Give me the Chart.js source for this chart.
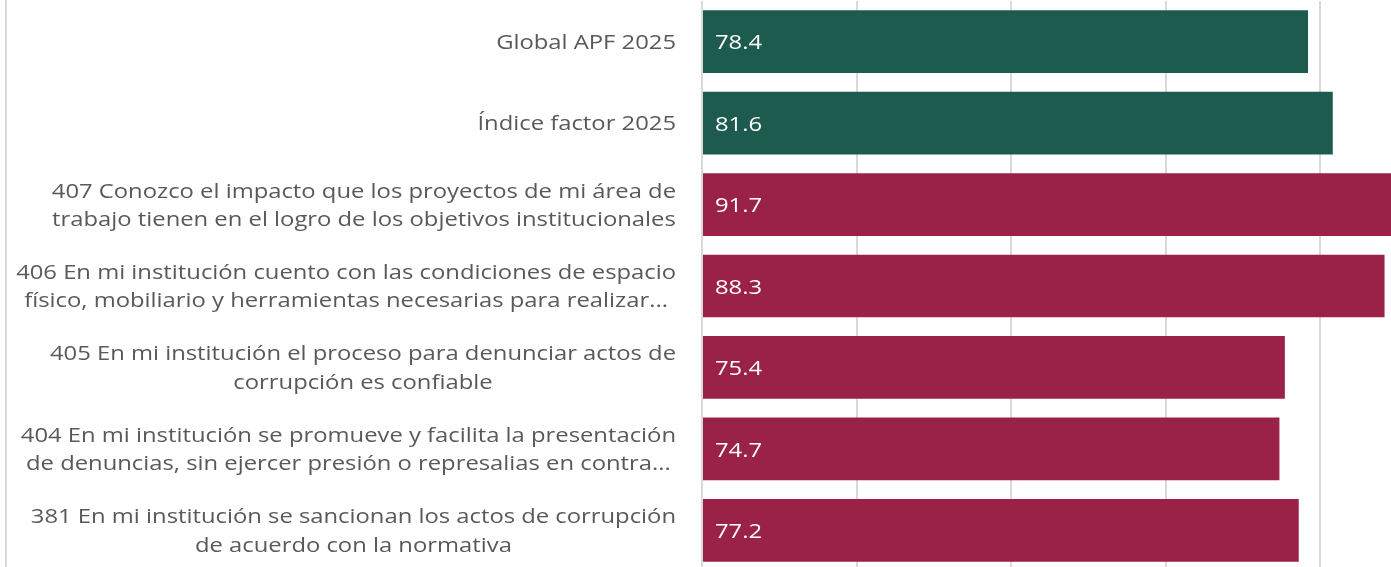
<!DOCTYPE html>
<html>
<head>
<meta charset="utf-8">
<script src="https://cdn.jsdelivr.net/npm/chart.js@4"></script>
<style>
    html, body { margin: 0; padding: 0; overflow: hidden; background: #fff; }
    #frame {
        position: absolute; left: 5px; top: 0;
        width: 1473px; height: 567px;
        border-left: 2px solid #d9d9d9;
        overflow: hidden;
    }
    #chart { display: block; }
</style>
</head>
<body>
<div id="frame"><canvas id="chart" width="1473" height="600"></canvas></div>
<script>
// Данные
const categories = [
    ['Global APF 2025'],
    ['Índice factor 2025'],
    ['407 Conozco el impacto que los proyectos de mi área de', 'trabajo tienen en el logro de los objetivos institucionales'],
    ['406 En mi institución cuento con las condiciones de espacio', 'físico, mobiliario y herramientas necesarias para realizar...'],
    ['405 En mi institución el proceso para denunciar actos de', 'corrupción es confiable'],
    ['404 En mi institución se promueve y facilita la presentación', 'de denuncias, sin ejercer presión o represalias en contra...'],
    ['381 En mi institución se sancionan los actos de corrupción', 'de acuerdo con la normativa']
];
const scores = [78.4, 81.6, 91.7, 88.3, 75.4, 74.7, 77.2];
const xTicks = [0, 20, 40, 60, 80, 100];

// Стили
const green = '#1e5b4f';
const maroon = '#9b2247';
const labelFont = '20px "Open Sans"';
const stretch = 1.19; // текст в оригинале растянут по горизонтали
const barColors = scores.map((v, i) => i < 2 ? green : maroon);

const drawStretched = (ctx, text, x, y) => {
    ctx.save();
    ctx.translate(x, y);
    ctx.scale(stretch, 1);
    ctx.fillText(text, 0, 0);
    ctx.restore();
};

// Подписи категорий: блок прижат вправо, строки по центру блока
const categoryLabels = {
    id: 'categoryLabels',
    afterDraw(chart) {
        const ctx = chart.ctx;
        const yScale = chart.scales.y;
        const right = chart.chartArea.left - 26;
        const lineHeight = 28.5;
        ctx.save();
        ctx.font = labelFont;
        ctx.fillStyle = '#595959';
        ctx.textAlign = 'center';
        ctx.textBaseline = 'middle';
        categories.forEach((lines, i) => {
            let widest = 0;
            lines.forEach(l => { widest = Math.max(widest, ctx.measureText(l).width * stretch); });
            const cx = right - widest / 2;
            const cy = yScale.getPixelForTick(i) + 1.5;
            const top = cy - (lines.length - 1) * lineHeight / 2;
            lines.forEach((l, k) => drawStretched(ctx, l, cx, top + k * lineHeight));
        });
        ctx.restore();
    }
};

// Значения внутри столбцов
const valueLabels = {
    id: 'valueLabels',
    afterDatasetsDraw(chart) {
        const ctx = chart.ctx;
        const meta = chart.getDatasetMeta(0);
        ctx.save();
        ctx.font = labelFont;
        ctx.fillStyle = '#ffffff';
        ctx.textAlign = 'left';
        ctx.textBaseline = 'middle';
        meta.data.forEach((bar, i) => {
            drawStretched(ctx, scores[i].toFixed(1), bar.base + 12, bar.y + 2);
        });
        ctx.restore();
    }
};

let context = document.getElementById('chart').getContext('2d');

let config = {
    type: 'bar',
    data: {
        labels: categories,
        datasets: [{
            data: scores,
            backgroundColor: barColors,
            borderWidth: 0,
            barPercentage: 0.77,
            categoryPercentage: 1
        }]
    },
    options: {
        indexAxis: 'y',
        responsive: false,
        animation: false,
        devicePixelRatio: 1,
        layout: { padding: { top: 1, right: 5, left: 0, bottom: 0 } },
        scales: {
            x: {
                min: 0,
                max: 100,
                afterBuildTicks: (scale) => { scale.ticks = xTicks.map(v => ({ value: v })); },
                ticks: { display: false },
                grid: { color: '#d9d9d9', lineWidth: 2, drawTicks: false },
                border: { display: false },
                afterFit: (scale) => { scale.height = 29; }
            },
            y: {
                ticks: { display: false },
                grid: { display: false },
                border: { display: false },
                afterFit: (scale) => { scale.width = 695; }
            }
        },
        plugins: {
            legend: { display: false },
            tooltip: { enabled: false }
        }
    },
    plugins: [categoryLabels, valueLabels]
};

let chart = new Chart(context, config);
</script>
</body>
</html>
